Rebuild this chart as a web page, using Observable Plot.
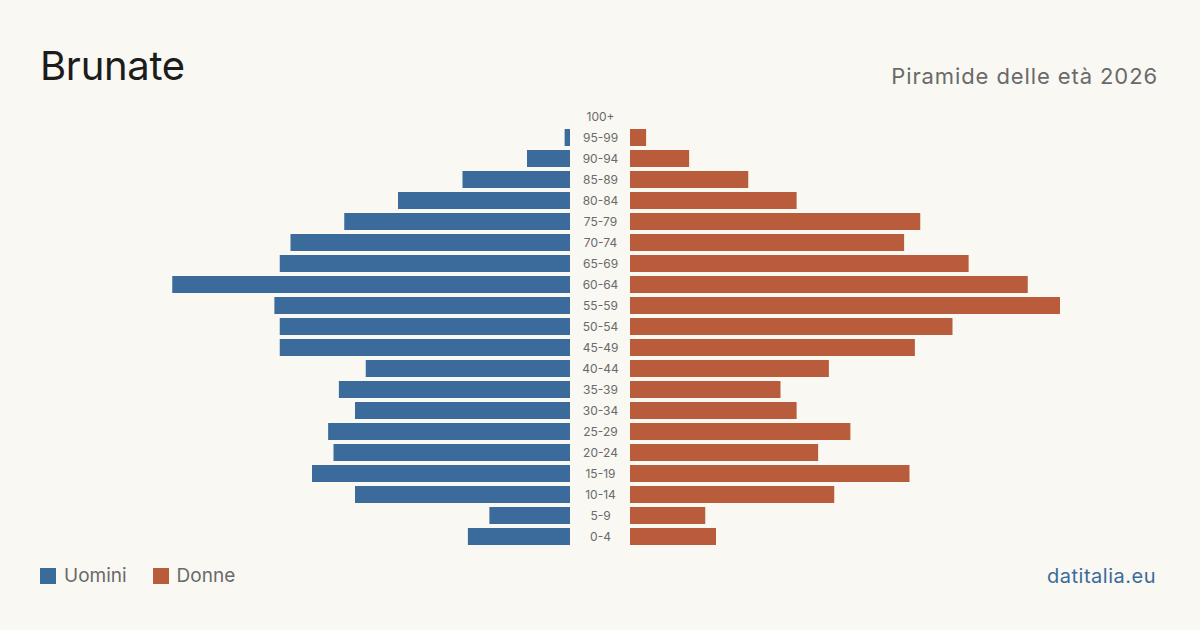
<!DOCTYPE html>
<html lang="it">
<head>
<meta charset="utf-8">
<script src="https://cdn.jsdelivr.net/npm/d3@7"></script>
<script src="https://cdn.jsdelivr.net/npm/@observablehq/plot@0.6"></script>
<style>
  html, body { margin: 0; padding: 0; }
  body {
    width: 1200px; height: 630px; position: relative; overflow: hidden;
    background: #f9f8f3; font-family: Inter, "Noto Sans", sans-serif;
  }
  #title { position: absolute; left: 40px; top: 40px; font-size: 40px; color: #1c1c1c; line-height: 52px; letter-spacing: -0.3px; }
  #subtitle { position: absolute; right: 42px; top: 62px; font-size: 22px; color: #6a6a6a; line-height: 28px; letter-spacing: 0.9px; }
  #legend { position: absolute; left: 40px; top: 564px; display: flex; align-items: center; font-size: 19px; color: #6a6a6a; line-height: 24px; }
  .sw { display: inline-block; width: 16px; height: 16px; margin-right: 8px; }
  .item { display: flex; align-items: center; margin-right: 26px; }
  #source { position: absolute; right: 44px; top: 563px; font-size: 20px; color: #3b6b9b; line-height: 26px; letter-spacing: 0.5px; }
  .chart { position: absolute; top: 0; }
</style>
</head>
<body>
<div id="title">Brunate</div>
<div id="subtitle">Piramide delle età 2026</div>
<div id="left" class="chart" style="left:0"></div>
<div id="right" class="chart" style="left:570px"></div>
<div id="legend">
  <span class="item"><span class="sw" style="background:#3b6b9b"></span>Uomini</span>
  <span class="item"><span class="sw" style="background:#b95c3c"></span>Donne</span>
</div>
<div id="source">datitalia.eu</div>
<script>
// Age classes, youngest first
const ages = ["0-4","5-9","10-14","15-19","20-24","25-29","30-34","35-39","40-44","45-49",
              "50-54","55-59","60-64","65-69","70-74","75-79","80-84","85-89","90-94","95-99","100+"];
// Residents by age class
const uomini = [19,15,40,48,44,45,40,43,38,54,54,55,74,54,52,42,32,20,8,1,0];
const donne  = [16,14,38,52,35,41,31,28,37,53,60,80,74,63,51,54,31,22,11,3,0];

const colorUomini = "#3b6b9b";
const colorDonne = "#b95c3c";

const maxVal = d3.max([...uomini, ...donne]);
const rowsU = ages.map((a, i) => ({age: a, value: uomini[i]}));
const rowsD = ages.map((a, i) => ({age: a, value: donne[i]}));
const yDomain = ages.slice().reverse();

const yScale = {domain: yDomain, padding: 0.19, axis: null};
const common = {
  height: 630,
  marginTop: 104.5,
  marginBottom: 80.5,
  style: {background: "transparent", fontFamily: "Inter, 'Noto Sans', sans-serif"}
};

// Men: bars grow leftwards from the centre
const left = Plot.plot({
  ...common,
  width: 570,
  marginLeft: 140,
  marginRight: 0,
  x: {domain: [0, maxVal], reverse: true, axis: null},
  y: yScale,
  marks: [
    Plot.barX(rowsU, {x: "value", y: "age", fill: colorUomini})
  ]
});

// Women: bars grow rightwards, age labels in the central gutter
const right = Plot.plot({
  ...common,
  width: 630,
  marginLeft: 60,
  marginRight: 140,
  x: {domain: [0, maxVal], axis: null},
  y: yScale,
  marks: [
    Plot.barX(rowsD, {x: "value", y: "age", fill: colorDonne}),
    Plot.text(ages, {x: 0, y: d => d, text: d => d, dx: -30, textAnchor: "middle",
      fill: "#6a6a6a", fontSize: 12, letterSpacing: "0.3px"})
  ]
});

document.getElementById("left").appendChild(left);
document.getElementById("right").appendChild(right);
</script>
</body>
</html>
